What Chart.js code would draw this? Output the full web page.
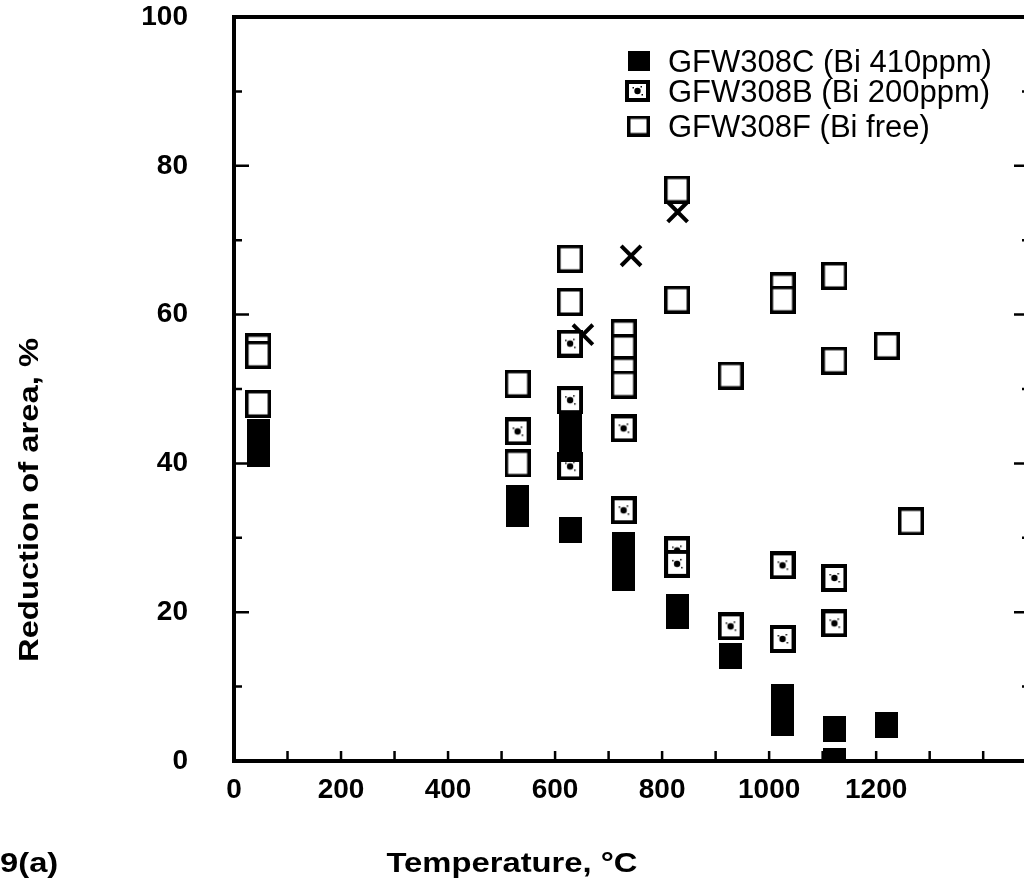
<!DOCTYPE html>
<html lang="en">
<head>
<meta charset="UTF-8">
<title>Reduction of area vs temperature</title>
<script src="https://cdn.jsdelivr.net/npm/chart.js"></script>
<style>
body { margin:0; overflow:hidden; background:#fff; }
</style>
</head>
<body>
<canvas id="chart" width="1030" height="881"></canvas>
<script>
// series (x = temperature °C, y = reduction of area %)
const labelC = "GFW308C (Bi 410ppm)";
const labelB = "GFW308B (Bi 200ppm)";
const labelF = "GFW308F (Bi free)";

const tempC = [45, 45, 530, 530, 628, 628, 628, 728, 728, 728, 828, 828, 928, 1025, 1025, 1122, 1122, 1220];
const raC   = [44.2, 41.3, 35.3, 33.2, 45, 42, 31.1, 29, 26.7, 24.6, 20.7, 19.5, 14.1, 8.6, 5.1, 4.3, 0, 4.8];

const tempB = [530, 628, 628, 628, 728, 728, 828, 828, 928, 1025, 1025, 1122, 1122];
const raB   = [44.3, 56.1, 48.5, 39.6, 44.7, 33.7, 28.3, 26.5, 18.1, 26.3, 16.4, 24.6, 18.5];

const tempF = [45, 45, 45, 530, 530, 628, 628, 728, 728, 728, 728, 828, 828, 928, 1025, 1025, 1122, 1122, 1220, 1265];
const raF   = [55.6, 54.6, 48, 50.7, 40, 67.5, 61.7, 57.5, 55.5, 52.5, 50.6, 76.8, 62, 51.8, 63.8, 62, 65.2, 53.8, 55.8, 32.2];

const tempX = [652, 742, 829];
const raX   = [57.3, 67.9, 73.8];

const xTickStep = 200;
const yTickStep = 20;

const FONT = "'Liberation Sans', Arial, Helvetica, sans-serif";

function pts(xs, ys) { return xs.map((x, i) => ({x: x, y: ys[i]})); }

// square markers drawn into small canvases
function box(w, h, kind) {
  const c = document.createElement('canvas');
  c.width = w; c.height = h;
  const g = c.getContext('2d');
  g.fillStyle = '#000';
  g.fillRect(0, 0, w, h);
  if (kind !== 'filled') {
    const b = kind === 'dotted' ? 4 : 3.5;
    g.fillStyle = '#fff';
    g.fillRect(b, b, w - 2 * b, h - 2 * b);
    if (kind === 'dotted') {
      g.fillStyle = '#000';
      g.beginPath();
      g.arc(w / 2, h / 2, 3.2, 0, Math.PI * 2);
      g.fill();
      g.fillRect(w / 2 + 3, h / 2 - 5, 1.5, 1.5);
      g.fillRect(w / 2 - 5, h / 2 - 4, 1.5, 1.5);
      g.fillRect(w / 2 + 4, h / 2 + 3, 1.5, 1.5);
    }
  }
  return c;
}

const mFilled = box(23, 26, 'filled');
const mDotted = box(26, 28, 'dotted');
const mOpen = box(26, 28, 'open');
const legendIcons = [box(22, 20, 'filled'), box(25, 22, 'dotted'), box(23, 21, 'open')];

// stretched bold text, like the scanned figure
function wideText(ctx, text, x, y, align) {
  ctx.save();
  ctx.translate(x, y);
  ctx.scale(1.17, 1);
  ctx.textAlign = align;
  ctx.fillText(text, 0, 0);
  ctx.restore();
}

const decorations = {
  id: 'decorations',
  afterDraw(chart) {
    const ctx = chart.ctx;
    const a = chart.chartArea;
    const xs = chart.scales.x, ys = chart.scales.y;
    ctx.save();
    ctx.strokeStyle = '#000';
    ctx.fillStyle = '#000';

    // top frame line
    ctx.lineWidth = 4;
    ctx.beginPath();
    ctx.moveTo(a.left - 2, a.top);
    ctx.lineTo(a.right, a.top);
    ctx.stroke();

    // inward ticks
    ctx.lineWidth = 2.5;
    ctx.beginPath();
    for (let v = 100; v <= 1400; v += 100) {
      const px = xs.getPixelForValue(v);
      ctx.moveTo(px, a.bottom);
      ctx.lineTo(px, a.bottom - 10);
    }
    for (let v = 10; v < 100; v += 10) {
      const py = ys.getPixelForValue(v);
      const len = v % 20 === 0 ? 15 : 8;
      ctx.moveTo(a.left, py);
      ctx.lineTo(a.left + len, py);
      const rlen = v % 20 === 0 ? 12 : 4;
      ctx.moveTo(a.right, py);
      ctx.lineTo(a.right - rlen, py);
    }
    ctx.stroke();

    // axis titles
    ctx.font = 'bold 28px ' + FONT;
    ctx.textBaseline = 'middle';
    wideText(ctx, 'Temperature, \u00B0C', 512, 864, 'center');
    wideText(ctx, '9(a)', 0, 864, 'left');
    ctx.save();
    ctx.translate(30, 500);
    ctx.rotate(-Math.PI / 2);
    wideText(ctx, 'Reduction of area, %', 0, 0, 'center');
    ctx.restore();

    // legend inside the plot
    ctx.font = '31px ' + FONT;
    ctx.textAlign = 'left';
    ctx.textBaseline = 'alphabetic';
    const rows = [72, 102, 137];
    for (let i = 0; i < 3; i++) {
      const ic = legendIcons[i];
      ctx.drawImage(ic, 650 - ic.width, rows[i] - 11 - ic.height / 2);
      ctx.fillText(chart.data.datasets[i].label, 668, rows[i]);
    }
    ctx.restore();
  }
};

function noPad(s) {
  s.paddingTop = 0; s.paddingBottom = 0;
  s.paddingLeft = 0; s.paddingRight = 0;
}

new Chart(document.getElementById('chart'), {
  type: 'scatter',
  data: {
    datasets: [
      { label: labelC, data: pts(tempC, raC), pointStyle: mFilled },
      { label: labelB, data: pts(tempB, raB), pointStyle: mDotted },
      { label: labelF, data: pts(tempF, raF), pointStyle: mOpen },
      { label: 'x', data: pts(tempX, raX), pointStyle: 'crossRot', radius: 14,
        borderColor: '#000', borderWidth: 4 }
    ]
  },
  options: {
    responsive: false,
    animation: false,
    devicePixelRatio: 1,
    layout: { autoPadding: false, padding: { top: 17, right: 4, left: 0, bottom: 0 } },
    plugins: { legend: { display: false }, tooltip: { enabled: false } },
    scales: {
      x: {
        type: 'linear', min: 0, max: 1480,
        afterFit: s => { s.height = 120; noPad(s); },
        grid: { display: false, drawTicks: false },
        border: { display: true, color: '#000', width: 4 },
        ticks: {
          stepSize: xTickStep, autoSkip: false, maxRotation: 0, padding: 12,
          color: '#000', font: { family: FONT, size: 28, weight: 'bold' },
          callback: v => (v <= 1200 ? String(v) : '')
        }
      },
      y: {
        type: 'linear', min: 0, max: 100,
        afterFit: s => { s.width = 234; noPad(s); },
        grid: { display: false, drawTicks: false },
        border: { display: true, color: '#000', width: 4 },
        ticks: {
          stepSize: yTickStep, padding: 46,
          color: '#000', font: { family: FONT, size: 28, weight: 'bold' }
        }
      }
    }
  },
  plugins: [decorations]
});
</script>
</body>
</html>
